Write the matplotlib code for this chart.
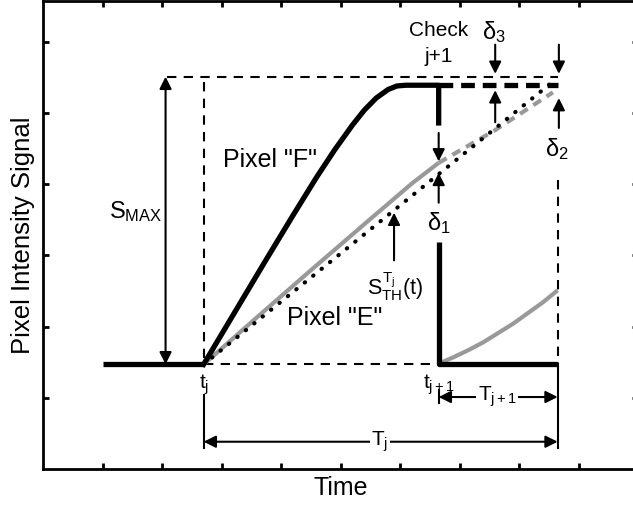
import matplotlib
matplotlib.use("Agg")
import matplotlib.pyplot as plt
import numpy as np

plt.rcParams['font.family'] = ['Liberation Sans', 'DejaVu Sans']
plt.rcParams['mathtext.fontset'] = 'custom'
plt.rcParams['mathtext.rm'] = 'Liberation Sans'
plt.rcParams['mathtext.it'] = 'Liberation Sans'
plt.rcParams['mathtext.bf'] = 'Liberation Sans:bold'
plt.rcParams['mathtext.sf'] = 'Liberation Sans'

# ---- key times and levels (data units) ----
t_start, t_j, t_j1, t_end = 1.0, 2.7, 6.65, 8.65
y_base = 1.47
y_smax = 5.51
y_sat = 5.39

# Pixel "F" (black, saturates)
f_x = [2.7, 3.2, 3.7, 4.2, 4.6, 4.9, 5.2, 5.4, 5.6, 5.8, 5.95, 6.1, 6.65]
f_y = [1.47, 2.17, 2.87, 3.56, 4.10, 4.48, 4.83, 5.04, 5.21, 5.33, 5.38, 5.39, 5.39]
f_drop_top = 4.86      # end of upper part of reset line
f_drop_bottom = 3.19   # start of lower part of reset line

# Pixel "E" (gray)
e_x = [2.7, 3.5, 4.5, 5.5, 6.2, 6.65]
e_y = [1.47, 2.06, 2.79, 3.51, 4.01, 4.30]
e_cont_x = [6.65, 7.6, 8.57]
e_cont_y = [4.30, 4.76, 5.29]
e_next_x = [6.65, 6.9, 7.15, 7.4, 7.65, 7.9, 8.15, 8.4, 8.65]
e_next_y = [1.48, 1.57, 1.67, 1.78, 1.91, 2.04, 2.19, 2.34, 2.51]

# Threshold S_TH (dotted)
th_x = [2.7, 8.6]
th_y = [1.47, 5.46]

fig = plt.figure(figsize=(6.33, 5.08), dpi=100)
W, H = 633, 508
ax = fig.add_axes([43 / W, (H - 469) / H, (638 - 43) / W, 468 / H])
ax.set_xlim(0, 10)
ax.set_ylim(0, 468 / 71.2)
ax.set_xticks(np.arange(1, 10))
ax.set_yticks(np.arange(1, 7))
ax.tick_params(direction='in', length=4, width=2, top=True, right=True,
               labelbottom=False, labelleft=False)
for s in ax.spines.values():
    s.set_linewidth(2)

ax.set_xlabel('Time', fontsize=18, labelpad=5)
ax.set_ylabel('Pixel Intensity Signal', fontsize=18.5, labelpad=6)

thin = dict(color='black', lw=1.5)
dash = (0, (4.5, 3.5))

# thin dashed guides
ax.plot([2.09, t_end], [y_smax, y_smax], linestyle=dash, **thin)
ax.plot([t_j, t_j], [y_smax - 0.08, y_base], linestyle=dash, **thin)
ax.plot([t_j, t_j1], [y_base, y_base], linestyle=dash, **thin)
ax.plot([t_end, t_end], [4.06, y_base], linestyle=dash, **thin)

# thin solid verticals (bottom)
ax.plot([t_j, t_j], [1.04, 0.295], **thin)
ax.plot([t_end, t_end], [y_base, 0.295], **thin)
ax.plot([t_j1, t_j1], [1.11, 0.93], **thin)

# gray curves
gray = '#999999'
ax.plot(e_x, e_y, color=gray, lw=3, solid_capstyle='butt')
ax.plot(e_cont_x, e_cont_y, color=gray, lw=3, linestyle=(0, (2.2, 1.6)))
ax.plot(e_next_x, e_next_y, color=gray, lw=3, solid_capstyle='butt')

# threshold dotted
ax.plot(th_x, th_y, color='black', lw=3, linestyle=(0, (0.1, 2.5)),
        dash_capstyle='round')

# Pixel F thick black
thick = dict(color='black', lw=3.8)
ax.plot([t_start, t_j], [y_base, y_base], solid_capstyle='butt', **thick)
ax.plot(f_x + [t_j1], f_y + [f_drop_top], solid_joinstyle='round', **thick)
ax.plot([t_j1, t_j1, t_end], [f_drop_bottom, y_base, y_base],
        solid_capstyle='butt', **thick)
ax.plot([t_j1, t_end], [y_sat, y_sat], color='black', lw=3.8,
        linestyle=(0, (2.6, 1.5)))

# arrows
def arrow(x0, y0, x1, y1, style='-|>'):
    ax.annotate('', xy=(x1, y1), xytext=(x0, y0),
                arrowprops=dict(arrowstyle=style, color='black', lw=1.5,
                                mutation_scale=18, shrinkA=0, shrinkB=0))

arrow(2.06, y_base, 2.06, y_smax, '<|-|>')
arrow(t_j, 0.383, t_end, 0.383, '<|-|>')
arrow(t_j1, 1.011, t_end, 1.011, '<|-|>')
arrow(t_j1, 4.72, t_j1, 4.32)
arrow(t_j1, 3.74, t_j1, 4.16)
arrow(5.9, 2.93, 5.9, 3.60)
arrow(7.6, 5.96, 7.6, 5.55)
arrow(7.6, 4.87, 7.6, 5.32)
arrow(8.67, 5.96, 8.67, 5.55)
arrow(8.67, 4.79, 8.67, 5.21)

fs = 18
bbox = dict(facecolor='white', edgecolor='none', pad=1)
ax.text(1.56, 3.61, r'$S_{MAX}$', fontsize=17, ha='center', va='center')
ax.text(3.82, 4.34, 'Pixel "F"', fontsize=fs, ha='center', va='center')
ax.text(4.91, 2.12, 'Pixel "E"', fontsize=fs, ha='center', va='center')
ax.text(t_j1, 3.45, r'$\delta_1$', fontsize=17, ha='center', va='center')
ax.text(5.92, 2.56, r'$S_{TH}^{T_j}(t)$', fontsize=15.5, ha='center', va='center')
ax.text(t_j1, 6.16, 'Check', fontsize=15, ha='center', va='center')
ax.text(t_j1, 5.79, 'j+1', fontsize=15, ha='center', va='center')
ax.text(7.58, 6.13, r'$\delta_3$', fontsize=17, ha='center', va='center')
ax.text(8.64, 4.50, r'$\delta_2$', fontsize=17, ha='center', va='center')
ax.text(t_j, 1.19, r'$t_j$', fontsize=15, ha='center', va='center')
ax.text(t_j1, 1.19, r'$t_{j+1}$', fontsize=15, ha='center', va='center')
ax.text(7.63, 1.011, r'$T_{j+1}$', fontsize=15, ha='center', va='center', bbox=bbox)
ax.text(5.66, 0.383, r'$T_j$', fontsize=15, ha='center', va='center', bbox=bbox)

fig.savefig('out.png', dpi=100)
